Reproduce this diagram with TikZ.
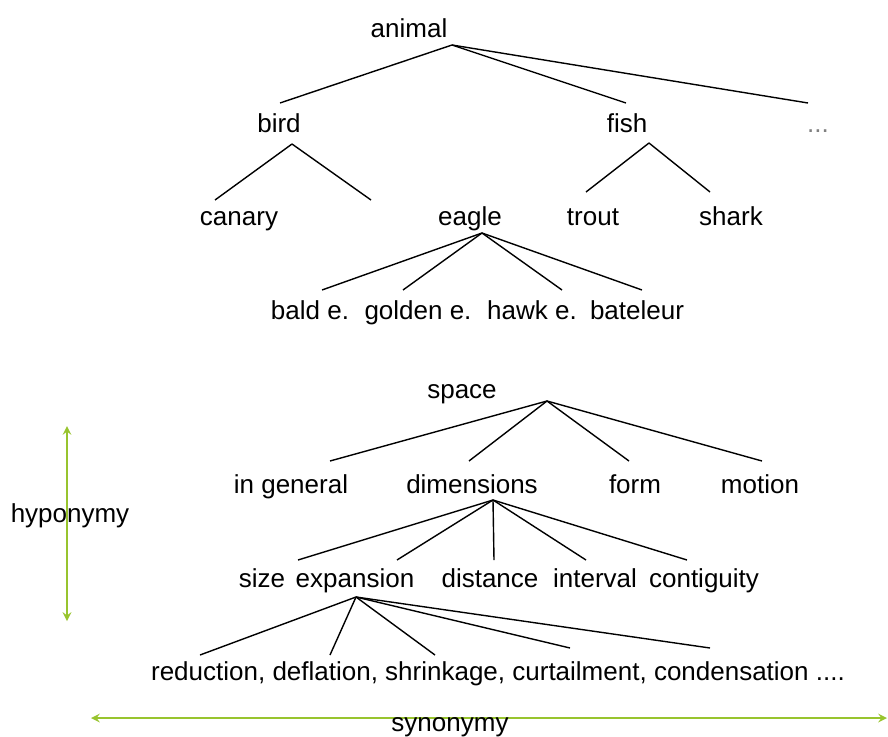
\documentclass[tikz,border=0pt]{standalone}
\usepackage{fontspec}
\setmainfont{Liberation Sans}
\definecolor{relgreen}{RGB}{152,196,46}

\begin{document}
\begin{tikzpicture}[>=stealth,x=1pt,y=-1pt,
                    word/.style={anchor=base,inner sep=0pt,font=\fontsize{26}{30}\selectfont},
                    branch/.style={line width=1.4pt},
                    relation/.style={<->,relgreen,line width=2.8pt}]
                        \useasboundingbox (0,0) rectangle (888,736);
                        % animal tree
                        \node[word] (animal) at (409,37) {animal};
                        \node[word] (bird) at (279,132) {bird};
                        \node[word] (fish) at (627,132) {fish};
                        \node[word,gray] (more) at (818,132) {...};
                        \node[word] (canary) at (239,225) {canary};
                        \node[word] (eagle) at (470,225) {eagle};
                        \node[word] (trout) at (593,225) {trout};
                        \node[word] (shark) at (731,225) {shark};
                        \node[word] (bald) at (310,319) {bald e.};
                        \node[word] (golden) at (418,319) {golden e.};
                        \node[word] (hawk) at (532,319) {hawk e.};
                        \node[word] (bateleur) at (637,319) {bateleur};
                        \coordinate (animal-fork) at (452,45);
                        \coordinate (bird-fork) at (292,144);
                        \coordinate (fish-fork) at (649,143);
                        \coordinate (eagle-fork) at (482,233);
                        \foreach \n/\x in {bird/280,fish/626,more/808}{
                            \coordinate (animal-\n) at (\x,103);
                            \draw[branch] (animal-fork) -- (animal-\n);}
                        \foreach \n/\x in {canary/215,gap/371}{
                            \coordinate (bird-\n) at (\x,200);
                            \draw[branch] (bird-fork) -- (bird-\n);}
                        \foreach \n/\x in {trout/586,shark/710}{
                            \coordinate (fish-\n) at (\x,192);
                            \draw[branch] (fish-fork) -- (fish-\n);}
                        \foreach \n/\x in {bald/322,golden/403,hawk/562,bateleur/642}{
                            \coordinate (eagle-\n) at (\x,290);
                            \draw[branch] (eagle-fork) -- (eagle-\n);}
                        % space tree
                        \node[word] (space) at (462,398) {space};
                        \node[word] (general) at (291,493) {in general};
                        \node[word] (dimensions) at (472,493) {dimensions};
                        \node[word] (form) at (635,493) {form};
                        \node[word] (motion) at (760,493) {motion};
                        \node[word] (size) at (262,587) {size};
                        \node[word] (expansion) at (355,587) {expansion};
                        \node[word] (distance) at (490,587) {distance};
                        \node[word] (interval) at (595,587) {interval};
                        \node[word] (contiguity) at (704,587) {contiguity};
                        \node[word] (reduction) at (498,680) {reduction, deflation, shrinkage, curtailment, condensation ....};
                        \coordinate (space-fork) at (547,401);
                        \coordinate (dimensions-fork) at (493,500);
                        \coordinate (expansion-fork) at (356,597);
                        \foreach \n/\x in {general/330,dimensions/469,form/629,motion/762}{
                            \coordinate (space-\n) at (\x,461);
                            \draw[branch] (space-fork) -- (space-\n);}
                        \foreach \n/\x in {size/298,expansion/397,distance/494,interval/586,contiguity/687}{
                            \coordinate (dimensions-\n) at (\x,560);
                            \draw[branch] (dimensions-fork) -- (dimensions-\n);}
                        \foreach \n/\x/\y in {reduction/200/655,deflation/330/655,shrinkage/435/655,curtailment/570/648,condensation/710/648}{
                            \coordinate (expansion-\n) at (\x,\y);
                            \draw[branch] (expansion-fork) -- (expansion-\n);}
                        % relations
                        \coordinate (hypo-top) at (67,426);
                        \coordinate (hypo-bottom) at (67,621);
                        \coordinate (syno-left) at (91,718);
                        \coordinate (syno-right) at (887,718);
                        \draw[relation] (hypo-top) -- (hypo-bottom);
                        \draw[relation] (syno-left) -- (syno-right);
                        \node[word] (hyponymy) at (70,522) {hyponymy};
                        \node[word] (synonymy) at (450,731) {synonymy};
                    \end{tikzpicture}
\end{document}
